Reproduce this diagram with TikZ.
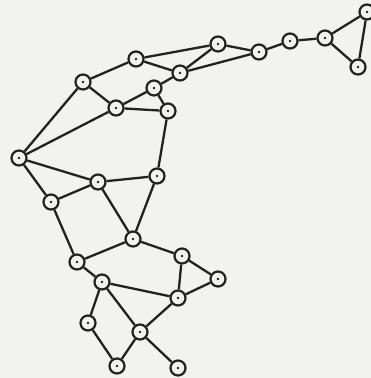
\documentclass[tikz,border=0pt]{standalone}
\begin{document}
\begin{tikzpicture}[x=1pt,y=-1pt,
  vtx/.style={circle,draw=ink,fill=paper,line width=2.2pt,minimum size=15pt,inner sep=0pt,
    path picture={\fill[ink] (path picture bounding box.center) circle (1.4pt);}},
  edge/.style={draw=ink,line width=2.3pt}]
\definecolor{ink}{HTML}{222222}
\definecolor{paper}{HTML}{F2F2F0}
\fill[paper] (0,0) rectangle (371,378);
\useasboundingbox (0,0) rectangle (371,378);
\node[vtx] (A) at (136,59) {};
\node[vtx] (B) at (83,82) {};
\node[vtx] (C) at (180,73) {};
\node[vtx] (D) at (154,88) {};
\node[vtx] (E) at (116,108) {};
\node[vtx] (F) at (168,111) {};
\node[vtx] (G) at (19,158) {};
\node[vtx] (H) at (157,176) {};
\node[vtx] (I) at (98,182) {};
\node[vtx] (J) at (218,44) {};
\node[vtx] (K) at (259,52) {};
\node[vtx] (L) at (290,41) {};
\node[vtx] (M) at (325,38) {};
\node[vtx] (N) at (367,12) {};
\node[vtx] (O) at (358,67) {};
\node[vtx] (P) at (51,202) {};
\node[vtx] (Q) at (133,239) {};
\node[vtx] (R) at (77,262) {};
\node[vtx] (S) at (182,256) {};
\node[vtx] (T) at (102,282) {};
\node[vtx] (U) at (178,298) {};
\node[vtx] (Z) at (218,279) {};
\node[vtx] (V) at (88,323) {};
\node[vtx] (W) at (140,332) {};
\node[vtx] (X) at (117,366) {};
\node[vtx] (Y) at (178,368) {};
\path[edge] (G)--(B) (B)--(A) (B)--(E) (A)--(J) (A)--(C) (C)--(J) (C)--(K) (J)--(K)
  (K)--(L) (L)--(M) (M)--(N) (M)--(O) (N)--(O)
  (D)--(C) (D)--(E) (D)--(F) (E)--(F) (G)--(E) (G)--(I) (I)--(H) (F)--(H)
  (G)--(P) (P)--(I) (I)--(Q) (H)--(Q) (P)--(R) (R)--(Q) (Q)--(S)
  (R)--(T) (T)--(U) (S)--(U) (S)--(Z) (Z)--(U) (U)--(W) (T)--(V) (T)--(W)
  (W)--(Y) (V)--(X) (W)--(X);
\end{tikzpicture}
\end{document}
